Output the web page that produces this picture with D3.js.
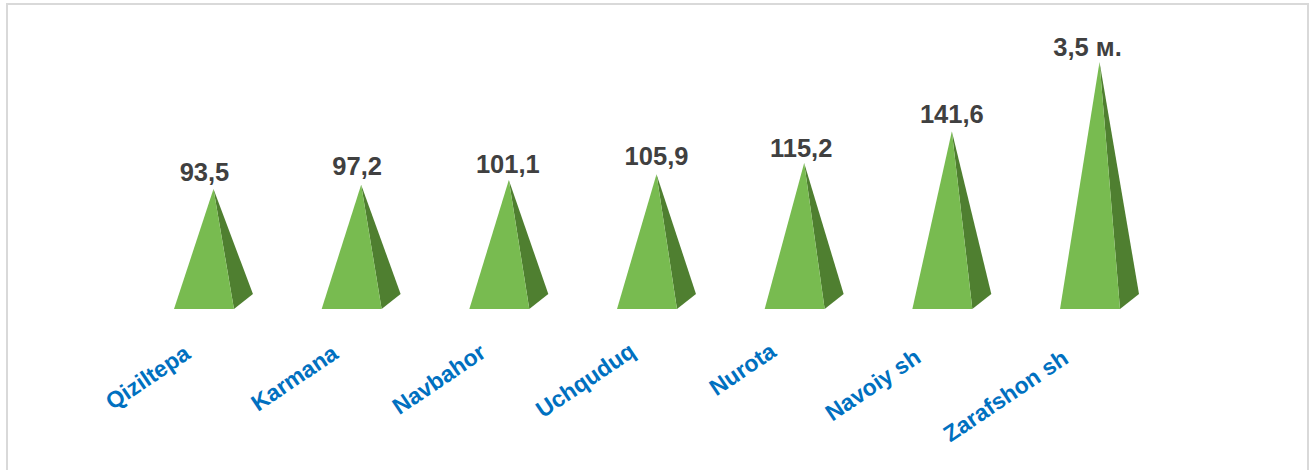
<!DOCTYPE html>
<html lang="en">
    <head>
        <meta charset="utf-8">
        <title>Pyramid chart</title>
        <script src="https://d3js.org/d3.v7.min.js"></script>
        <style>
            body { margin: 0; background: #fff; }
            text { font-family: "Liberation Sans", Arial, sans-serif; font-weight: bold; }
            .value { font-size: 25.5px; fill: #404040; }
            .cat text { font-size: 23px; fill: #0070c0; }
        </style>
    </head>
    <body>
        <svg id="chart" width="1314" height="470"></svg>
        <script>
            const categories = ["Qiziltepa", "Karmana", "Navbahor", "Uchquduq", "Nurota", "Navoiy sh", "Zarafshon sh"];
            // last one is 3.5 mln, the column is cut off at about 199
            const values = [93.5, 97.2, 101.1, 105.9, 115.2, 141.6, 199];
            const valueLabels = ["93,5", "97,2", "101,1", "105,9", "115,2", "141,6", "3,5 м."];

            let svg = d3.select("#chart");

            // frame, open at the bottom
            svg.append("path")
                .attr("d", "M7,470V4H1308V470")
                .attr("fill", "none")
                .attr("stroke", "#d9d9d9")
                .attr("stroke-width", 2);

            let baseY = 309;
            let depthX = 19, depthY = 15;

            let x = d3.scaleBand()
                .domain(categories)
                .range([174, 1120])
                .paddingInner(0.594);

            let y = d3.scaleLinear()
                .domain([-6, 199])
                .range([baseY, 62]);

            // hand placed labels, as in the original
            let labelDx = [-9, -4, -1, 0, -3, 0, -12];
            let labelDy = [-8, -10, -7, -9, -6, -8, -6];
            let catDx = [-12, -12, -12, -10, -17, -20, -20];
            let catDy = [48, 48, 47, 46, 46, 52, 53];

            let marks = svg.append("g");
            categories.forEach((c, i) => {
                let left = x(c);
                let right = left + x.bandwidth();
                let apexX = (left + right + depthX) / 2;
                let apexY = y(values[i]);

                marks.append("path")
                    .attr("d", d3.line()([[apexX, apexY], [right, baseY], [right + depthX, baseY - depthY]]))
                    .attr("fill", "#4f7f30");
                marks.append("path")
                    .attr("d", d3.line()([[apexX, apexY], [left, baseY], [right, baseY]]))
                    .attr("fill", "#78bb50");

                marks.append("text")
                    .attr("class", "value")
                    .attr("x", apexX + labelDx[i])
                    .attr("y", apexY + labelDy[i])
                    .attr("text-anchor", "middle")
                    .text(valueLabels[i]);
            });

            let axis = svg.append("g")
                .attr("class", "cat")
                .attr("transform", `translate(0,${baseY})`)
                .call(d3.axisBottom(x).tickSize(0));
            axis.select(".domain").remove();
            axis.selectAll("text")
                .attr("text-anchor", "end")
                .attr("dy", null)
                .attr("y", null)
                .attr("transform", (d, i) => `translate(${catDx[i]},${catDy[i]}) rotate(-34)`);
        </script>
    </body>
</html>
